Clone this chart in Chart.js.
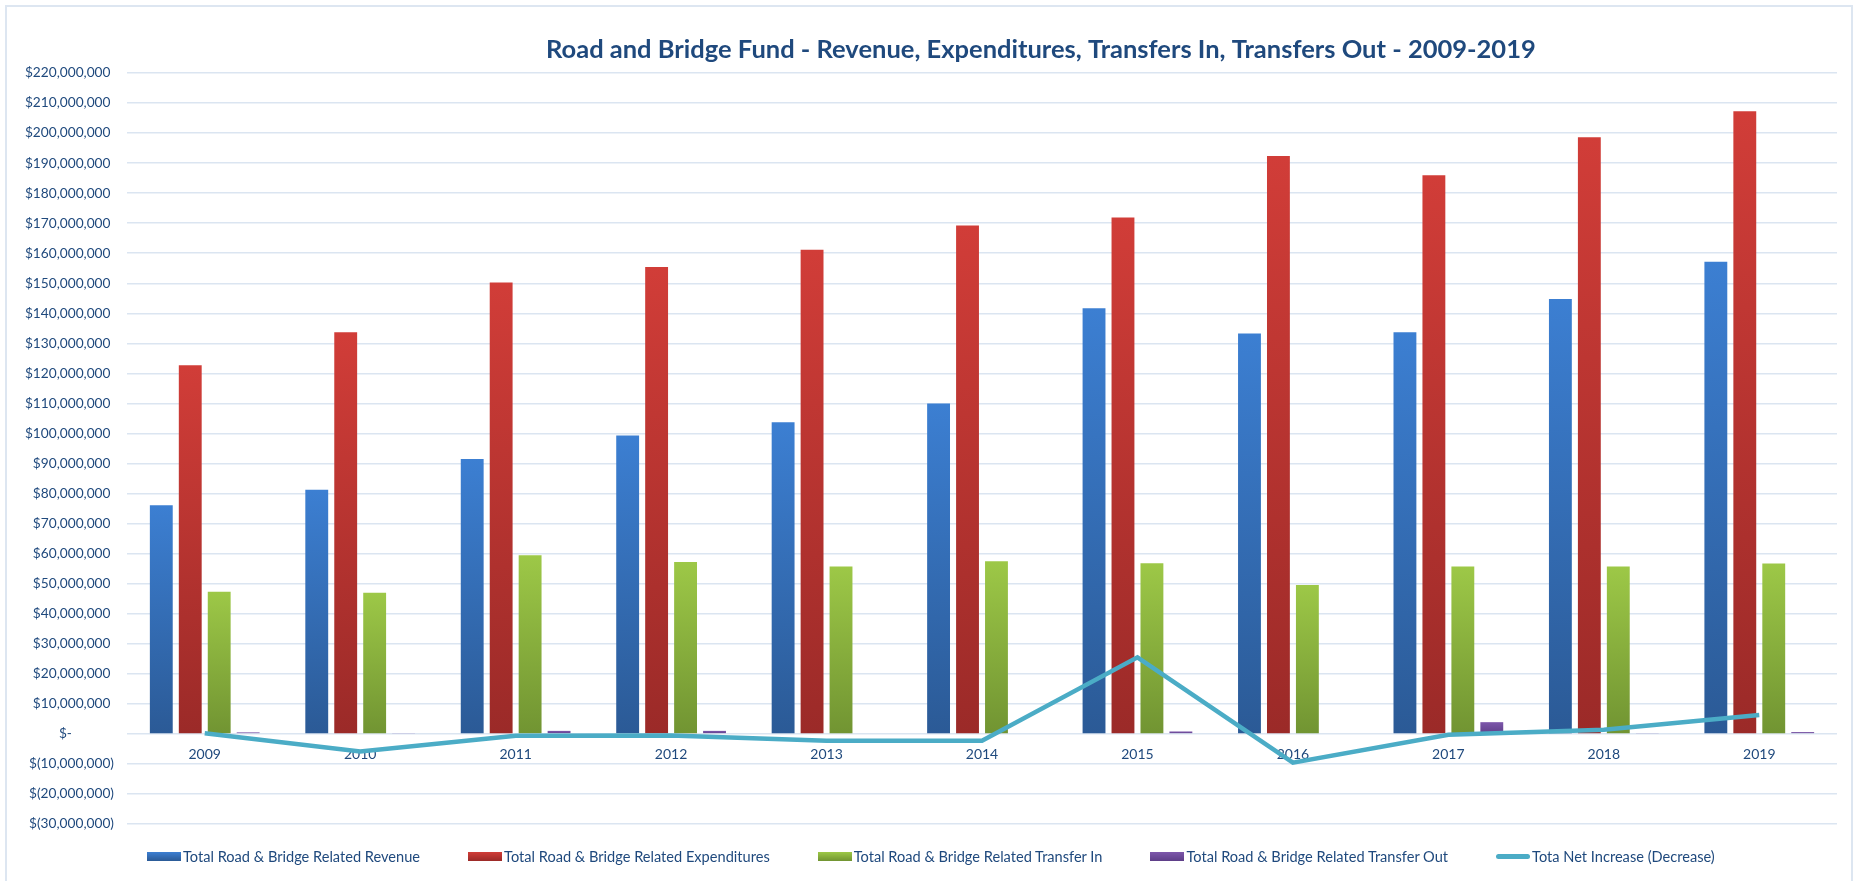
<!DOCTYPE html>
<html>
<head>
<meta charset="utf-8">
<title>Road and Bridge Fund</title>
<script src="https://cdn.jsdelivr.net/npm/chart.js@4.4.1/dist/chart.umd.min.js"></script>
<style>
  html, body { margin: 0; padding: 0; background: #fff; overflow: hidden; }
  #wrap { position: relative; width: 1856px; height: 881px; }
  #frame { position: absolute; left: 5px; top: 5px; width: 1848px; height: 900px; border: 2px solid #dde6f1; box-sizing: border-box; }
  #chart { position: absolute; left: 0; top: 0; }
  #legend { position: absolute; left: 147px; top: 848px; display: flex; gap: 48px; align-items: center;
            font: 14.6px Lato, sans-serif; color: #1f497d; white-space: nowrap; }
  #legend .item { display: flex; align-items: center; gap: 2px; }
  #legend .box { width: 34px; height: 9px; }
  #legend .line { width: 34px; height: 5px; border-radius: 3px; }
</style>
</head>
<body>
<div id="wrap">
  <div id="frame"></div>
  <canvas id="chart" width="1856" height="881"></canvas>
  <div id="legend"></div>
</div>
<script>
// ===== DATA =====
const years = ['2009', '2010', '2011', '2012', '2013', '2014', '2015', '2016', '2017', '2018', '2019'];
const revenue      = [76100000, 81300000, 91500000, 99300000, 103700000, 110000000, 141700000, 133300000, 133700000, 144800000, 157200000];
const expenditures = [122700000, 133700000, 150300000, 155400000, 161200000, 169200000, 171900000, 192400000, 186000000, 198600000, 207300000];
const transferIn   = [47300000, 47000000, 59500000, 57200000, 55700000, 57500000, 56800000, 49600000, 55700000, 55700000, 56700000];
const transferOut  = [500000, 200000, 1000000, 1000000, 0, 0, 800000, 0, 3900000, 300000, 600000];
const netChange    = [200000, -5900000, -600000, -500000, -2300000, -2300000, 25500000, -9600000, -300000, 1400000, 6300000];

const seriesNames = [
  'Total Road & Bridge Related Revenue',
  'Total Road & Bridge Related Expenditures',
  'Total Road & Bridge Related Transfer In',
  'Total Road & Bridge Related Transfer Out',
  'Tota Net Increase (Decrease)'
];

const yMin = -30000000;
const yMax = 220000000;
const yStep = 10000000;

// ===== STYLE =====
const textColor = '#1f497d';
const gridColor = '#dbe5f1';
const fontFamily = 'Lato, sans-serif';
const palette = [
  ['#3c7fd2', '#2b5a96'],
  ['#d13d38', '#9b2a28'],
  ['#9dc847', '#719432'],
  ['#7d57ab', '#5e3e88']
];
const lineColor = '#4bacc6';

// vertical gradient on each bar, light at the top, dark at the base
function barFill(top, bottom) {
  return (ctx) => {
    const chart = ctx.chart;
    if (!chart.chartArea || ctx.type !== 'data' || !ctx.parsed) return top;
    const y = chart.scales.y;
    const y1 = y.getPixelForValue(ctx.parsed.y);
    const y0 = y.getPixelForValue(0);
    if (Math.abs(y0 - y1) < 1) return top;
    const g = chart.ctx.createLinearGradient(0, Math.min(y0, y1), 0, Math.max(y0, y1));
    g.addColorStop(0, top);
    g.addColorStop(1, bottom);
    return g;
  };
}

function money(v) {
  if (v === 0) return '$-' + ' '.repeat(12);
  const s = Math.abs(v).toLocaleString('en-US');
  return v < 0 ? '$(' + s + ')' : '$' + s + ' ';
}

const titlePlugin = {
  id: 'sheetTitle',
  afterDraw(chart) {
    const c = chart.ctx;
    c.save();
    c.font = 'bold 25.5px ' + fontFamily;
    c.fillStyle = textColor;
    c.textAlign = 'left';
    c.textBaseline = 'alphabetic';
    c.fillText('Road and Bridge Fund - Revenue, Expenditures, Transfers In, Transfers Out - 2009-2019', 546, 58);
    c.restore();
  }
};

const barSeries = [revenue, expenditures, transferIn, transferOut];

const datasets = barSeries.map((data, i) => ({
  type: 'bar',
  label: seriesNames[i],
  data,
  backgroundColor: barFill(palette[i][0], palette[i][1]),
  borderWidth: 0,
  categoryPercentage: 0.745,
  barPercentage: 0.79,
  order: 1
}));

datasets.push({
  type: 'line',
  label: seriesNames[4],
  data: netChange,
  borderColor: lineColor,
  backgroundColor: lineColor,
  borderWidth: 4.5,
  pointRadius: 0,
  tension: 0,
  order: 0
});

const chart = new Chart(document.getElementById('chart'), {
  data: { labels: years, datasets },
  options: {
    responsive: false,
    animation: false,
    devicePixelRatio: 1,
    layout: { padding: { left: 0, right: 19, top: 73, bottom: 57 } },
    plugins: {
      legend: { display: false },
      title: { display: false },
      tooltip: { enabled: false }
    },
    scales: {
      x: {
        position: { y: 0 },
        grid: { display: false, drawTicks: false },
        border: { display: false },
        ticks: { color: textColor, font: { family: fontFamily, size: 14 }, padding: 12 }
      },
      y: {
        min: yMin,
        max: yMax,
        afterFit(scale) { scale.width = 127; },
        grid: { color: gridColor, lineWidth: 1.5, drawTicks: false },
        border: { display: false },
        ticks: {
          stepSize: yStep,
          autoSkip: false,
          padding: 13,
          color: textColor,
          font: { family: fontFamily, size: 13.7 },
          callback: (v) => money(v)
        }
      }
    }
  },
  plugins: [titlePlugin]
});

// ===== LEGEND =====
const legendEl = document.getElementById('legend');
legendEl.innerHTML = chart.data.datasets.map((ds, i) => {
  const swatch = i < palette.length
    ? `<span class="box" style="background:linear-gradient(${palette[i][0]}, ${palette[i][1]})"></span>`
    : `<span class="line" style="background:${lineColor}"></span>`;
  return `<span class="item">${swatch}<span>${ds.label}</span></span>`;
}).join('');
</script>
</body>
</html>
